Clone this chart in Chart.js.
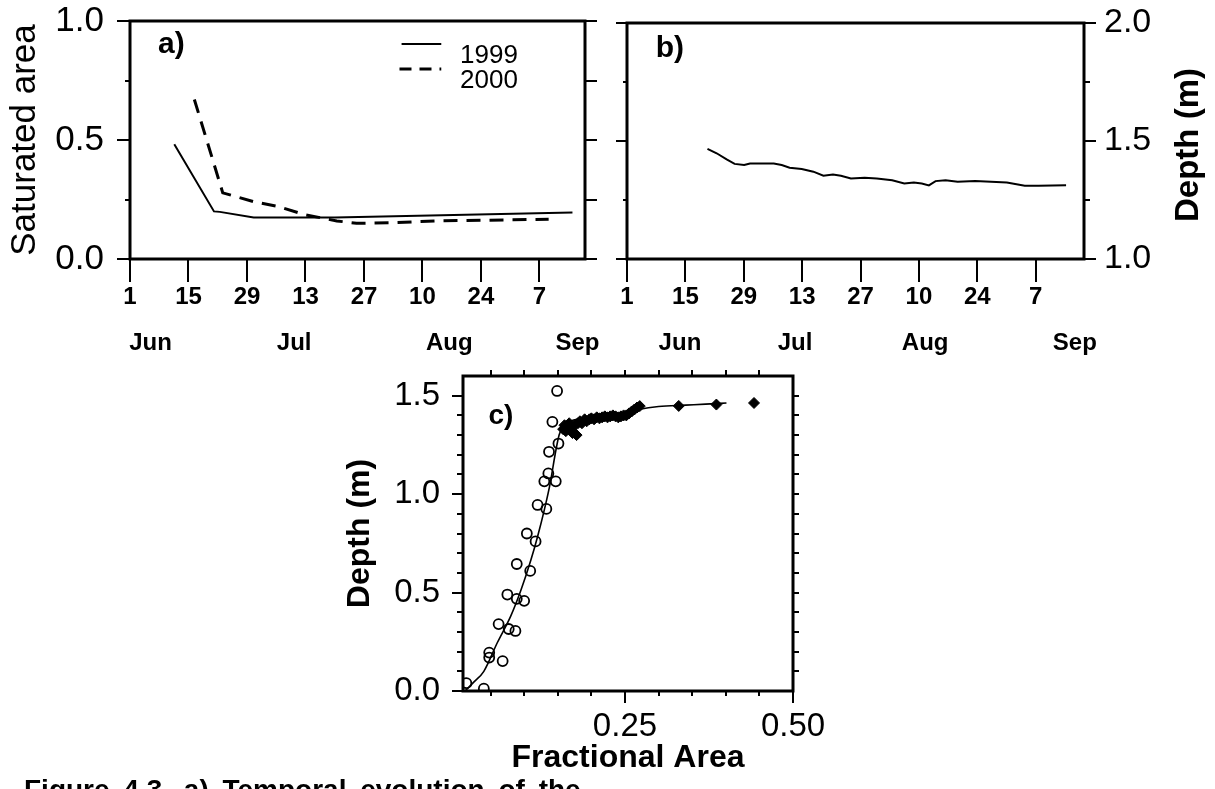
<!DOCTYPE html>
<html>
<head>
<meta charset="utf-8">
<script src="https://cdn.jsdelivr.net/npm/chart.js@4.4.1/dist/chart.umd.min.js"></script>
<style>
  html, body { margin: 0; padding: 0; background: #fff; width: 1215px; height: 789px; overflow: hidden; }
  canvas { position: absolute; }
  #caption { position: absolute; left: 24px; top: 774px; font: bold 28px "Liberation Sans", Arial, sans-serif; color: #000; white-space: nowrap; word-spacing: 6px; }
</style>
</head>
<body>
<canvas id="chartA" width="610" height="370" style="left:0;top:0"></canvas>
<canvas id="chartB" width="615" height="370" style="left:600px;top:0"></canvas>
<canvas id="chartC" width="520" height="429" style="left:330px;top:360px"></canvas>
<div id="caption">Figure 4.3. a) Temporal evolution of the</div>
<script>
// Saturated area (a), water depth (b) and depth vs fractional area (c).
// Day axis: 0 = 1 Jun.

const DAY_TICKS = [0, 14, 28, 42, 56, 70, 84, 98];
const DAY_LABELS = ["1", "15", "29", "13", "27", "10", "24", "7"];
const MONTHS = ["Jun", "Jul", "Aug", "Sep"];
const MONTH_POS_A = [4.9, 39.3, 76.4, 107.1];
const MONTH_POS_B = [12.7, 40.3, 71.5, 107.4];

// ---- a) saturated area ----
const DAYS_1999 = [10.6, 20.1, 21.5, 29.6, 49.0, 105.9];
const SAT_1999 = [0.482, 0.200, 0.198, 0.174, 0.174, 0.195];
const DAYS_2000 = [15.4, 22.2, 29.6, 35.3, 41.9, 49.5, 54.2, 63.7, 73.2, 100.2];
const SAT_2000 = [0.670, 0.278, 0.241, 0.221, 0.186, 0.160, 0.150, 0.153, 0.160, 0.167];

// ---- b) depth ----
const DEPTH_DAYS = [19.3, 21.5, 23.9, 25.8, 28.1, 29.5, 32.4, 35.2, 37.1, 39.0, 41.9, 44.7, 47.1, 49.4, 51.3, 53.7,
  57.0, 59.9, 63.6, 66.5, 68.8, 70.7, 72.4, 74.0, 76.4, 79.3, 83.5, 87.3, 91.1, 95.4, 98.7, 105.3];
const DEPTH_M = [1.467, 1.448, 1.422, 1.403, 1.398, 1.405, 1.405, 1.405, 1.398, 1.387, 1.381, 1.370, 1.353, 1.358, 1.353, 1.341,
  1.344, 1.341, 1.334, 1.320, 1.324, 1.320, 1.312, 1.330, 1.334, 1.327, 1.330, 1.327, 1.324, 1.310, 1.310, 1.313];

// ---- c) depth vs fractional area ----
const CIRCLE_AREA = [0.014, 0.040, 0.048, 0.048, 0.068, 0.062, 0.077, 0.087, 0.075, 0.089, 0.100, 0.089,
  0.109, 0.104, 0.117, 0.120, 0.133, 0.130, 0.147, 0.136, 0.137, 0.151, 0.142, 0.149];
const CIRCLE_DEPTH = [0.04, 0.012, 0.195, 0.17, 0.152, 0.34, 0.315, 0.305, 0.49, 0.468, 0.458, 0.645,
  0.61, 0.80, 0.76, 0.945, 0.925, 1.065, 1.065, 1.105, 1.215, 1.257, 1.367, 1.524];
const DIAMOND_AREA = [0.158, 0.160, 0.162, 0.165, 0.167, 0.170, 0.172, 0.175, 0.178, 0.180, 0.183, 0.186, 0.190,
  0.193, 0.197, 0.200, 0.204, 0.208, 0.212, 0.216, 0.220, 0.224, 0.228, 0.232, 0.236, 0.240, 0.244, 0.248,
  0.252, 0.256, 0.260, 0.264, 0.268, 0.272, 0.330, 0.386, 0.442];
const DIAMOND_DEPTH = [1.33, 1.35, 1.32, 1.34, 1.36, 1.33, 1.31, 1.35, 1.30, 1.36, 1.37, 1.36, 1.38,
  1.37, 1.38, 1.385, 1.38, 1.39, 1.385, 1.39, 1.395, 1.39, 1.395, 1.40, 1.395, 1.39, 1.395, 1.40,
  1.40, 1.41, 1.42, 1.43, 1.44, 1.447, 1.448, 1.455, 1.463];
const FIT_AREA = [0.012, 0.025, 0.040, 0.060, 0.080, 0.095, 0.110, 0.120, 0.130, 0.139, 0.146, 0.152,
  0.158, 0.168, 0.185, 0.210, 0.240, 0.270, 0.300, 0.340, 0.370, 0.401];
const FIT_DEPTH = [0.0, 0.045, 0.10, 0.245, 0.38, 0.51, 0.665, 0.785, 0.92, 1.06, 1.20, 1.30,
  1.345, 1.37, 1.385, 1.395, 1.405, 1.43, 1.445, 1.452, 1.457, 1.463];

const FONT = '"Liberation Sans", Arial, Helvetica, sans-serif';
Chart.defaults.font.family = FONT;
Chart.defaults.color = "#000";
Chart.defaults.animation = false;

const pts = (xs, ys) => xs.map((x, i) => ({ x, y: ys[i] }));
const fixedTicks = (values) => (s) => { s.ticks = values.map((v) => ({ value: v })); };
// pin a scale's box size and drop the label overhang padding so the plot area is exact
const pinW = (w) => (s) => { s.width = w; s.paddingTop = 0; s.paddingBottom = 0; s.paddingLeft = 0; s.paddingRight = 0; };
const pinH = (h) => (s) => { s.height = h; s.paddingTop = 0; s.paddingBottom = 0; s.paddingLeft = 0; s.paddingRight = 0; };

// frame + tick marks drawn through the scales
const framePlugin = {
  id: "frame",
  afterDraw(chart, args, o) {
    const { ctx, chartArea: a, scales } = chart;
    ctx.save();
    ctx.strokeStyle = "#000";
    ctx.lineWidth = o.width;
    ctx.lineCap = "square";
    ctx.strokeRect(a.left, a.top, a.right - a.left, a.bottom - a.top);
    ctx.lineWidth = o.tickWidth;
    ctx.lineCap = "butt";
    o.ticks.forEach((t) => {
      const s = scales[t.axis];
      t.values.forEach((v) => {
        const p = Math.round(s.getPixelForValue(v));
        ctx.beginPath();
        if (t.side === "left") { ctx.moveTo(a.left, p); ctx.lineTo(a.left - t.len, p); }
        else if (t.side === "right") { ctx.moveTo(a.right, p); ctx.lineTo(a.right + t.len, p); }
        else if (t.side === "bottom") { ctx.moveTo(p, a.bottom); ctx.lineTo(p, a.bottom + t.len); }
        else { ctx.moveTo(p, a.top); ctx.lineTo(p, a.top - t.len); }
        ctx.stroke();
      });
    });
    ctx.restore();
  },
};

// panel letters, legend, rotated titles
const notesPlugin = {
  id: "notes",
  afterDraw(chart, args, o) {
    const { ctx, scales } = chart;
    ctx.save();
    ctx.fillStyle = "#000";
    ctx.strokeStyle = "#000";
    (o.lines || []).forEach((l) => {
      const y = scales.y.getPixelForValue(l.y);
      ctx.lineWidth = l.width;
      ctx.setLineDash(l.dash || []);
      ctx.beginPath();
      ctx.moveTo(scales.x.getPixelForValue(l.x0), y);
      ctx.lineTo(scales.x.getPixelForValue(l.x1), y);
      ctx.stroke();
    });
    ctx.setLineDash([]);
    (o.texts || []).forEach((t) => {
      const x = t.px !== undefined ? t.px : scales.x.getPixelForValue(t.x);
      const y = t.py !== undefined ? t.py : scales.y.getPixelForValue(t.y);
      ctx.save();
      ctx.translate(x, y);
      if (t.rot) ctx.rotate(t.rot);
      ctx.font = t.font;
      ctx.textAlign = t.align || "center";
      ctx.textBaseline = "middle";
      ctx.fillText(t.text, 0, 0);
      ctx.restore();
    });
    ctx.restore();
  },
};

const noGrid = { display: false, drawTicks: false };
const noBorder = { display: false };
const base = {
  responsive: false,
  devicePixelRatio: 1,
  elements: { point: { radius: 0 }, line: { tension: 0 } },
};

function dayAxes(max, monthPos) {
  return {
    x: {
      type: "linear", position: "bottom", min: 0, max,
      afterBuildTicks: fixedTicks(DAY_TICKS),
      afterFit: pinH(60),
      grid: noGrid, border: noBorder,
      ticks: { padding: 24, autoSkip: false, maxRotation: 0, font: { size: 24, weight: "bold" },
        callback: (v, i) => DAY_LABELS[i] },
    },
    m: {
      type: "linear", position: "bottom", weight: 1, min: 0, max,
      afterBuildTicks: fixedTicks(monthPos),
      afterFit: pinH(51),
      grid: noGrid, border: noBorder,
      ticks: { padding: 10, autoSkip: false, maxRotation: 0, font: { size: 24, weight: "bold" },
        callback: (v, i) => MONTHS[i] },
    },
  };
}

// ---- a) ----
new Chart(document.getElementById("chartA"), {
  type: "line",
  data: {
    datasets: [
      { label: "1999", data: pts(DAYS_1999, SAT_1999), borderColor: "#000", borderWidth: 2 },
      { label: "2000", data: pts(DAYS_2000, SAT_2000), borderColor: "#000", borderWidth: 3, borderDash: [14, 9] },
    ],
  },
  options: {
    ...base,
    layout: { autoPadding: false, padding: { top: 21, right: 25, bottom: 0, left: 0 } },
    scales: {
      ...dayAxes(108.9, MONTH_POS_A),
      y: {
        type: "linear", position: "left", min: 0, max: 1,
        afterBuildTicks: fixedTicks([0, 0.5, 1]),
        afterFit: pinW(130),
        grid: noGrid, border: noBorder,
        ticks: { padding: 26, font: { size: 35 }, callback: (v) => v.toFixed(1) },
        title: { display: true, text: "Saturated area", font: { size: 35 }, padding: { top: 4, bottom: 0 } },
      },
    },
    plugins: {
      legend: { display: false },
      tooltip: { enabled: false },
      frame: {
        width: 3, tickWidth: 2,
        ticks: [
          { axis: "y", side: "left", values: [0, 0.5, 1], len: 13 },
          { axis: "y", side: "left", values: [0.25, 0.75], len: 5 },
          { axis: "y", side: "right", values: [0, 0.25, 0.5, 0.75, 1], len: 12 },
          { axis: "x", side: "bottom", values: DAY_TICKS, len: 23 },
        ],
      },
      notes: {
        lines: [
          { x0: 65, x1: 74.5, y: 0.903, width: 2 },
          { x0: 64.5, x1: 74.5, y: 0.798, width: 3, dash: [12, 8] },
        ],
        texts: [
          { text: "a)", x: 9.9, y: 0.899, font: "bold 30px " + FONT },
          { text: "1999", x: 79, y: 0.853, font: "26px " + FONT, align: "left" },
          { text: "2000", x: 79, y: 0.748, font: "26px " + FONT, align: "left" },
        ],
      },
    },
  },
  plugins: [framePlugin, notesPlugin],
});

// ---- b) ----
new Chart(document.getElementById("chartB"), {
  type: "line",
  data: {
    datasets: [{ label: "Depth", data: pts(DEPTH_DAYS, DEPTH_M), borderColor: "#000", borderWidth: 2 }],
  },
  options: {
    ...base,
    layout: { autoPadding: false, padding: { top: 23, right: 0, bottom: 0, left: 27 } },
    scales: {
      ...dayAxes(109.6, MONTH_POS_B),
      y: {
        type: "linear", position: "right", min: 1, max: 2,
        afterBuildTicks: fixedTicks([1, 1.5, 2]),
        afterFit: pinW(131),
        grid: noGrid, border: noBorder,
        ticks: { padding: 20, font: { size: 34 }, callback: (v) => v.toFixed(1) },
      },
    },
    plugins: {
      legend: { display: false },
      tooltip: { enabled: false },
      frame: {
        width: 3, tickWidth: 2,
        ticks: [
          { axis: "y", side: "left", values: [1, 1.5, 2], len: 11 },
          { axis: "y", side: "left", values: [1.25, 1.75], len: 4 },
          { axis: "y", side: "right", values: [1, 1.5, 2], len: 12 },
          { axis: "y", side: "right", values: [1.25, 1.75], len: 6 },
          { axis: "x", side: "bottom", values: DAY_TICKS, len: 23 },
        ],
      },
      notes: {
        texts: [
          { text: "b)", x: 10.3, y: 1.89, font: "bold 30px " + FONT },
          { text: "Depth (m)", px: 589, py: 145, rot: -Math.PI / 2, font: "bold 33px " + FONT },
        ],
      },
    },
  },
  plugins: [framePlugin, notesPlugin],
});

// ---- c) ----
new Chart(document.getElementById("chartC"), {
  type: "scatter",
  data: {
    datasets: [
      { label: "2000", data: pts(DIAMOND_AREA, DIAMOND_DEPTH), pointStyle: "rectRot", pointRadius: 5.5,
        backgroundColor: "#000", borderColor: "#000", borderWidth: 1 },
      { label: "1999", data: pts(CIRCLE_AREA, CIRCLE_DEPTH), pointStyle: "circle", pointRadius: 5,
        backgroundColor: "rgba(0,0,0,0)", borderColor: "#000", borderWidth: 1.8 },
      { label: "fit", data: pts(FIT_AREA, FIT_DEPTH), showLine: true, pointRadius: 0,
        borderColor: "#000", borderWidth: 1.6, cubicInterpolationMode: "monotone" },
    ],
  },
  options: {
    ...base,
    layout: { autoPadding: false, padding: { top: 16, right: 57, bottom: 0, left: 0 } },
    scales: {
      x: {
        type: "linear", position: "bottom", min: 0.009, max: 0.5,
        afterBuildTicks: fixedTicks([0.25, 0.5]),
        afterFit: pinH(98),
        grid: noGrid, border: noBorder,
        ticks: { padding: 16, font: { size: 33 }, callback: (v) => v.toFixed(2) },
        title: { display: true, text: "Fractional Area", font: { size: 32, weight: "bold" }, padding: { top: 0, bottom: 12 } },
      },
      y: {
        type: "linear", position: "left", min: 0, max: 1.6,
        afterBuildTicks: fixedTicks([0, 0.5, 1, 1.5]),
        afterFit: pinW(133),
        grid: noGrid, border: noBorder,
        ticks: { padding: 23, font: { size: 33 }, callback: (v) => v.toFixed(1) },
        title: { display: true, text: "Depth (m)", font: { size: 32, weight: "bold" }, padding: { top: 11, bottom: 0 } },
      },
    },
    plugins: {
      legend: { display: false },
      tooltip: { enabled: false },
      frame: {
        width: 3, tickWidth: 2,
        ticks: [
          { axis: "y", side: "left", values: [0, 0.5, 1, 1.5], len: 11 },
          { axis: "y", side: "left", values: [0.1, 0.2, 0.3, 0.4, 0.6, 0.7, 0.8, 0.9, 1.1, 1.2, 1.3, 1.4], len: 6 },
          { axis: "y", side: "right", values: [0.1, 0.2, 0.3, 0.4, 0.5, 0.6, 0.7, 0.8, 0.9, 1.0, 1.1, 1.2, 1.3, 1.4, 1.5], len: 6 },
          { axis: "x", side: "top", values: [0.05, 0.1, 0.15, 0.2, 0.25, 0.3, 0.35, 0.4, 0.45], len: 6 },
          { axis: "x", side: "bottom", values: [0.05, 0.1, 0.15, 0.2, 0.3, 0.35, 0.4, 0.45], len: 5 },
          { axis: "x", side: "bottom", values: [0.25, 0.5], len: 12 },
        ],
      },
      notes: {
        texts: [{ text: "c)", x: 0.0655, y: 1.396, font: "bold 28px " + FONT }],
      },
    },
  },
  plugins: [framePlugin, notesPlugin],
});
</script>
</body>
</html>
